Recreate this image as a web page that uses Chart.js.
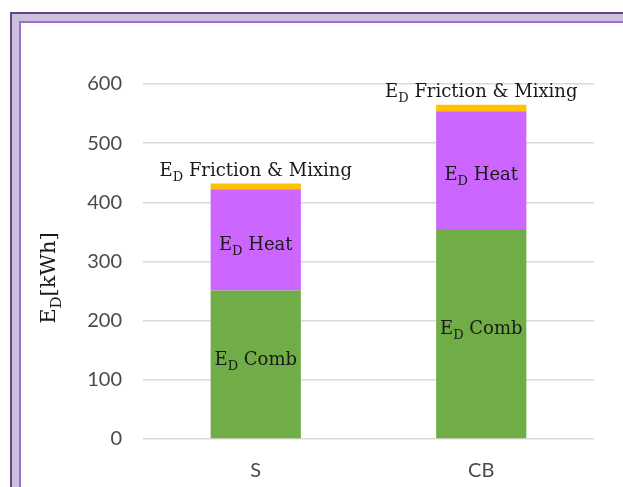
<!DOCTYPE html>
<html>
<head>
<meta charset="utf-8">
<script src="https://cdn.jsdelivr.net/npm/chart.js@4/dist/chart.umd.min.js"></script>
<style>
  html, body { margin: 0; padding: 0; background: #ffffff; overflow: hidden; }
  canvas { display: block; }
</style>
</head>
<body>
<canvas id="c" width="623" height="487"></canvas>
<script>
// Exergy destruction per configuration (kWh)
const categories = ['S', 'CB'];
const combValues = [251, 355];
const heatValues = [171, 199];
const frictionValues = [10, 11];
const yTicks = [0, 100, 200, 300, 400, 500, 600];

const seriesNames = ['Comb', 'Heat', 'Friction & Mixing'];
const seriesColors = ['#70ad47', '#cc66ff', '#ffc000'];

const serifFont = "'DejaVu Serif', serif";

// Draws "E" with a subscript "D" followed by the remaining text, centered on (cx, cy)
function drawSubLabel(ctx, rest, cx, cy, size) {
  const big = size + 'px ' + serifFont;
  const small = Math.round(size * 0.72) + 'px ' + serifFont;
  ctx.font = big;
  const wE = ctx.measureText('E').width;
  const wRest = ctx.measureText(rest).width;
  ctx.font = small;
  const wD = ctx.measureText('D').width;
  const total = wE + wD + wRest;
  let x = cx - total / 2;
  ctx.textBaseline = 'alphabetic';
  ctx.textAlign = 'left';
  const base = cy + size * 0.35;
  ctx.font = big;
  ctx.fillText('E', x, base);
  x += wE;
  ctx.font = small;
  ctx.fillText('D', x, base + size * 0.28);
  x += wD;
  ctx.font = big;
  ctx.fillText(rest, x, base);
}

// Purple frame along the top and left edges of the canvas
const framePlugin = {
  id: 'frame',
  beforeDraw(chart) {
    const ctx = chart.ctx;
    const w = chart.width, h = chart.height;
    ctx.save();
    ctx.fillStyle = '#ffffff';
    ctx.fillRect(0, 0, w, h);
    ctx.fillStyle = '#5e4a82';
    ctx.fillRect(10, 12, w - 10, h - 12);
    ctx.fillStyle = '#cbbfdd';
    ctx.fillRect(12, 14, w - 12, h - 14);
    ctx.fillStyle = '#9a6fd0';
    ctx.fillRect(19, 21, w - 19, h - 21);
    ctx.fillStyle = '#ffffff';
    ctx.fillRect(21, 23, w - 21, h - 23);
    ctx.restore();
  }
};

const labelOffsets = [-6, 4, -14];

const segmentLabels = {
  id: 'segmentLabels',
  afterDatasetsDraw(chart) {
    const ctx = chart.ctx;
    ctx.save();
    ctx.fillStyle = '#1a1a1a';
    chart.data.datasets.forEach((ds, di) => {
      const meta = chart.getDatasetMeta(di);
      meta.data.forEach((bar) => {
        const rest = ' ' + seriesNames[di];
        if (di < 2) {
          drawSubLabel(ctx, rest, bar.x, (bar.y + bar.base) / 2 + labelOffsets[di], 18);
        } else {
          drawSubLabel(ctx, rest, bar.x, bar.y + labelOffsets[di], 18);
        }
      });
    });
    // axis title, rotated
    ctx.translate(48, 278);
    ctx.rotate(-Math.PI / 2);
    drawSubLabel(ctx, '[kWh]', 0, 0, 21);
    ctx.restore();
  }
};

new Chart(document.getElementById('c'), {
  type: 'bar',
  data: {
    labels: categories,
    datasets: [
      { label: seriesNames[0], data: combValues, backgroundColor: seriesColors[0] },
      { label: seriesNames[1], data: heatValues, backgroundColor: seriesColors[1] },
      { label: seriesNames[2], data: frictionValues, backgroundColor: seriesColors[2] }
    ]
  },
  options: {
    responsive: false,
    animation: false,
    devicePixelRatio: 1,
    categoryPercentage: 1,
    barPercentage: 0.4,
    layout: { padding: { top: 84, right: 29, left: 0, bottom: 0 } },
    plugins: { legend: { display: false }, tooltip: { enabled: false } },
    scales: {
      x: {
        stacked: true,
        grid: { display: false },
        border: { display: false },
        ticks: { color: '#4a4a4a', font: { family: 'Lato', size: 20 }, padding: 12 },
        afterFit(scale) { scale.height = 48; }
      },
      y: {
        stacked: true,
        min: yTicks[0],
        max: yTicks[yTicks.length - 1],
        afterBuildTicks(scale) { scale.ticks = yTicks.map(v => ({ value: v })); },
        grid: { color: '#d9d9d9', lineWidth: 1.5, drawTicks: false },
        border: { display: false },
        ticks: { color: '#4a4a4a', font: { family: 'Lato', size: 20 }, padding: 21 },
        afterFit(scale) { scale.width = 143; }
      }
    }
  },
  plugins: [framePlugin, segmentLabels]
});
</script>
</body>
</html>
